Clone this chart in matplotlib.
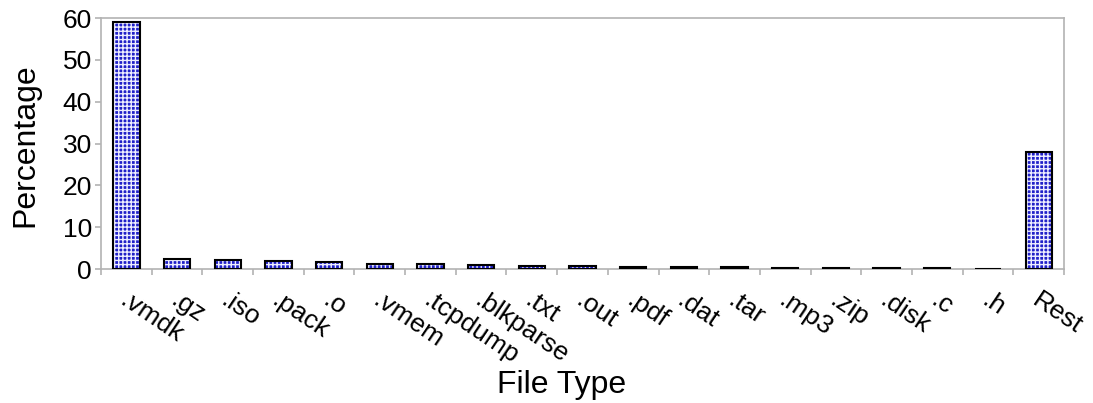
import matplotlib
matplotlib.use("Agg")
import matplotlib.pyplot as plt
import numpy as np

# share of each file type (percent)
file_types = [".vmdk", ".gz", ".iso", ".pack", ".o", ".vmem", ".tcpdump",
              ".blkparse", ".txt", ".out", ".pdf", ".dat", ".tar", ".mp3",
              ".zip", ".disk", ".c", ".h", "Rest"]
percentage = [59.0, 2.4, 2.2, 1.9, 1.6, 1.2, 1.1, 0.9, 0.8, 0.7,
              0.5, 0.5, 0.4, 0.35, 0.3, 0.25, 0.2, 0.1, 28.0]

plt.rcParams['font.family'] = ['Liberation Sans', 'DejaVu Sans']
plt.rcParams['hatch.linewidth'] = 1.0

grey = "#b3b3b3"
fig = plt.figure(figsize=(10.93, 4.03), dpi=100)
ax = fig.add_axes([0.0924, 0.3325, 0.8811, 0.6228])

x = np.arange(len(file_types))
# fill with hatch first, then the black outline on top
ax.bar(x, percentage, width=0.52, color="#2020c8", edgecolor="#eeeeff",
       hatch="++++", linewidth=0, zorder=2)
ax.bar(x, percentage, width=0.52, fill=False, edgecolor="black",
       linewidth=1.5, zorder=3)

ax.set_xlim(-0.5, len(file_types) - 0.5)
ax.set_ylim(0, 60)
ax.set_yticks(range(0, 61, 10))

for s in ax.spines.values():
    s.set_color(grey)
    s.set_linewidth(1.2)

ax.tick_params(axis="y", colors=grey, labelcolor="black", labelsize=19,
               length=4.5, width=1.2, direction="out", pad=2)
ax.set_xticks(np.arange(-0.5, len(file_types), 1.0), minor=True)
ax.tick_params(axis="x", which="minor", colors=grey, length=4, width=1.2,
               direction="out")
ax.set_xticks(x)
ax.set_xticklabels([])
ax.tick_params(axis="x", which="major", length=0)

for xi, lab in zip(x, file_types):
    ax.annotate(lab, xy=(xi, 0), xycoords=("data", "axes fraction"),
                xytext=(2, -14), textcoords="offset points",
                rotation=-34, rotation_mode="anchor", ha="left", va="top",
                fontsize=19)

fig.text(0.023, 0.64, "Percentage", fontsize=23, rotation=90,
         ha="center", va="center")
fig.text(0.514, 0.045, "File Type", fontsize=23, ha="center", va="center")

fig.savefig("out.png", dpi=100)
